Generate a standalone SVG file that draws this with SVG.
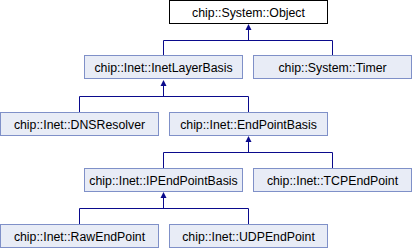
<svg xmlns="http://www.w3.org/2000/svg" width="412" height="248" viewBox="0 0 412 248">
  <defs>
    <style>
      .box { fill: #E8ECF6; stroke: #7F90C8; stroke-width: 1; }
      .root { fill: #FFFFFF; stroke: #000000; stroke-width: 1; }
      .lbl { font-family: "Liberation Sans", Arial, sans-serif; font-size: 12.3px; fill: #000000; text-anchor: middle; }
      .edge { fill: none; stroke: #0A0A8C; stroke-width: 1; }
      .head { fill: #0A0A8C; stroke: none; }
    </style>
  </defs>
  <rect width="412" height="248" fill="#FFFFFF"/>

  <!-- inheritance connectors -->
  <g id="connectors">
    <path class="edge" d="M248.5,29 V40.5 M163.5,56 V40.5 H332.5 V56"/>
    <polygon class="head" points="248.5,24 245.5,30 251.5,30"/>
    <path class="edge" d="M163.5,85 V96.5 M79.5,112 V96.5 H248.5 V112"/>
    <polygon class="head" points="163.5,80 160.5,86 166.5,86"/>
    <path class="edge" d="M248.5,141 V152.5 M163.5,168 V152.5 H332.5 V168"/>
    <polygon class="head" points="248.5,136 245.5,142 251.5,142"/>
    <path class="edge" d="M163.5,197 V208.5 M79.5,224 V208.5 H248.5 V224"/>
    <polygon class="head" points="163.5,192 160.5,198 166.5,198"/>
  </g>

  <g id="node-object">
    <rect class="root" x="169.5" y="0.5" width="158" height="23"/>
    <text class="lbl" x="248.5" y="16.5">chip::System::Object</text>
  </g>
  <g id="node-inetlayerbasis">
    <rect class="box" x="84.5" y="55.5" width="158" height="23"/>
    <text class="lbl" x="163.5" y="71.5">chip::Inet::InetLayerBasis</text>
  </g>
  <g id="node-timer">
    <rect class="box" x="253.5" y="55.5" width="158" height="23"/>
    <text class="lbl" x="332.5" y="71.5">chip::System::Timer</text>
  </g>
  <g id="node-dnsresolver">
    <rect class="box" x="0.5" y="112.5" width="158" height="23"/>
    <text class="lbl" x="79.5" y="128.5">chip::Inet::DNSResolver</text>
  </g>
  <g id="node-endpointbasis">
    <rect class="box" x="169.5" y="112.5" width="158" height="23"/>
    <text class="lbl" x="248.5" y="128.5">chip::Inet::EndPointBasis</text>
  </g>
  <g id="node-ipendpointbasis">
    <rect class="box" x="84.5" y="168.5" width="158" height="23"/>
    <text class="lbl" x="163.5" y="184.5">chip::Inet::IPEndPointBasis</text>
  </g>
  <g id="node-tcpendpoint">
    <rect class="box" x="253.5" y="168.5" width="158" height="23"/>
    <text class="lbl" x="332.5" y="184.5">chip::Inet::TCPEndPoint</text>
  </g>
  <g id="node-rawendpoint">
    <rect class="box" x="0.5" y="224.5" width="158" height="23"/>
    <text class="lbl" x="79.5" y="240.5">chip::Inet::RawEndPoint</text>
  </g>
  <g id="node-udpendpoint">
    <rect class="box" x="169.5" y="224.5" width="158" height="23"/>
    <text class="lbl" x="248.5" y="240.5">chip::Inet::UDPEndPoint</text>
  </g>
</svg>
